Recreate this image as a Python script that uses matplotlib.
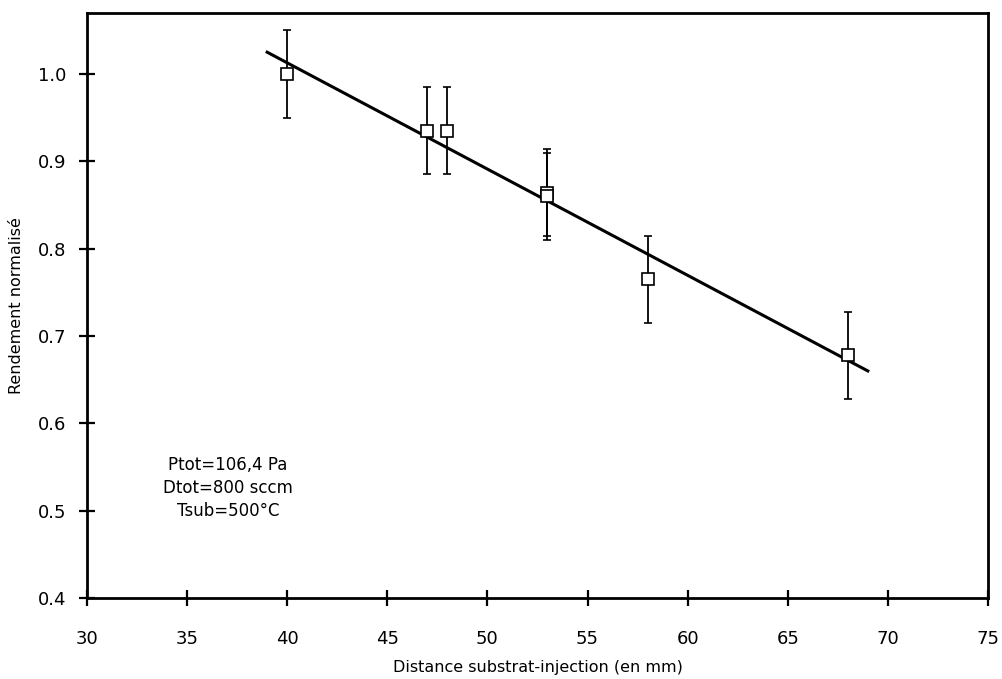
import numpy as np
import matplotlib.pyplot as plt

# measured points (distance in mm, normalised yield)
dist = [40, 47, 48, 53, 53, 58, 68]
rend = [1.000, 0.935, 0.935, 0.864, 0.860, 0.765, 0.678]
err = [0.05, 0.05, 0.05, 0.05, 0.05, 0.05, 0.05]

# linear fit drawn on the figure
fit_x = [39, 69]
fit_y = [1.025, 0.660]

xticks = [30, 35, 40, 45, 50, 55, 60, 65, 70, 75]
yticks = [0.4, 0.5, 0.6, 0.7, 0.8, 0.9, 1.0]

plt.rc('font', family='DejaVu Sans', size=13)
fig = plt.figure(figsize=(10.03, 6.79), dpi=100)
ax = fig.add_axes([0.0867, 0.1193, 0.8983, 0.8617])

ax.plot(fit_x, fit_y, color='black', lw=2.2)
ax.errorbar(dist, rend, yerr=err, fmt='s', mfc='white', mec='black',
            ms=8.5, mew=1.2, ecolor='black', elinewidth=1.3, capsize=3.2,
            capthick=1.3, zorder=3)

ax.set_xlim(30, 75)
ax.set_ylim(0.4, 1.07)
ax.set_xticks(xticks)
ax.set_yticks(yticks)
ax.set_yticklabels(['%.1f' % v for v in yticks])
ax.tick_params(direction='inout', length=12, width=1.6)
ax.tick_params(axis='x', pad=17)
ax.tick_params(axis='y', pad=9)
for s in ax.spines.values():
    s.set_linewidth(2)

ax.set_xlabel('Distance substrat-injection (en mm)', fontsize=11.5, labelpad=9)
ax.set_ylabel('Rendement normalisé', fontsize=11.5, labelpad=10)

ax.text(37.05, 0.526, 'Ptot=106,4 Pa\nDtot=800 sccm\nTsub=500°C',
        ha='center', va='center', fontsize=12, linespacing=1.35)

plt.savefig('out.png', dpi=100)
